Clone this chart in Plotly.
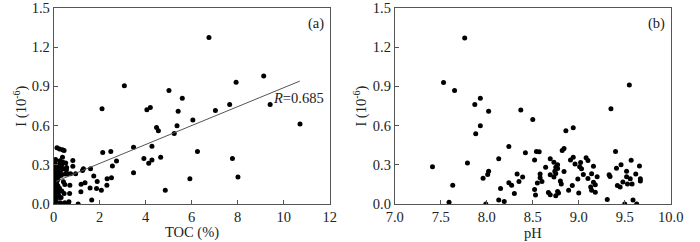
import plotly.graph_objects as go

# Panel (a): TOC (%) vs I (10^-6)
toc = [6.75, 3.07, 5.01, 5.59, 9.13, 7.93, 2.10, 4.05, 4.20, 5.41, 7.03, 7.65, 9.41, 6.05,
       10.71, 4.47, 4.55, 5.36, 5.24, 3.47, 4.27, 2.13, 2.48, 6.25, 4.65, 3.92, 4.27, 4.13,
       7.77, 2.73, 2.55, 3.47, 2.51, 2.32, 5.92, 8.01, 2.31, 2.07, 4.85, 1.60, 1.74, 1.89,
       1.86, 1.58, 1.65, 1.29, 1.25, 0.95, 1.36, 1.19, 1.18, 0.83, 0.83, 0.73, 0.70, 0.69,
       0.66, 1.06, 0.63, 0.38, 0.14, 0.25, 0.38, 0.45, 0.38, 0.52, 0.56, 0.50, 0.48, 0.45,
       0.42, 0.40, 0.35, 0.30, 0.28, 0.25, 0.22, 0.20, 0.18, 0.15, 0.12, 0.10, 0.08, 0.05,
       0.03, 0.02, 0.01, 0.04, 0.06, 0.09, 0.11, 0.13, 0.16, 0.19, 0.21, 0.24, 0.27, 0.30,
       0.33, 0.02, 0.05, 0.07, 0.10, 0.12, 0.15, 0.17, 0.20, 0.23, 0.03, 0.06, 0.08, 0.11,
       0.14, 0.18, 0.22, 0.26, 0.01, 0.04, 0.07, 0.09, 0.13, 0.16, 0.02, 0.05, 0.10, 0.15,
       0.20, 0.28, 0.35, 0.42, 0.03, 0.08, 0.12, 0.25, 0.32, 0.48, 0.55, 0.60, 0.18, 0.22]
iod_a = [1.274, 0.905, 0.869, 0.809, 0.980, 0.932, 0.729, 0.721, 0.739, 0.709, 0.716, 0.761,
         0.761, 0.643, 0.613, 0.585, 0.560, 0.598, 0.540, 0.435, 0.442, 0.394, 0.402, 0.402,
         0.357, 0.349, 0.337, 0.312, 0.349, 0.329, 0.291, 0.239, 0.201, 0.193, 0.193, 0.206,
         0.143, 0.106, 0.106, 0.269, 0.214, 0.173, 0.118, 0.123, 0.030, 0.269, 0.256, 0.231,
         0.163, 0.151, 0.093, 0.289, 0.332, 0.231, 0.143, 0.080, 0.018, 0.000, 0.000, 0.000,
         0.430, 0.420, 0.415, 0.410, 0.357, 0.314, 0.280, 0.230, 0.150, 0.080, 0.270, 0.320,
         0.300, 0.260, 0.220, 0.280, 0.250, 0.210, 0.190, 0.230, 0.200, 0.180, 0.160, 0.140,
         0.120, 0.100, 0.080, 0.060, 0.040, 0.020, 0.150, 0.170, 0.210, 0.240, 0.270, 0.300,
         0.330, 0.250, 0.220, 0.280, 0.310, 0.190, 0.170, 0.130, 0.110, 0.090, 0.070, 0.050,
         0.300, 0.260, 0.240, 0.200, 0.180, 0.140, 0.120, 0.330, 0.210, 0.110, 0.230, 0.250,
         0.280, 0.190, 0.010, 0.030, 0.020, 0.060, 0.070, 0.010, 0.100, 0.170, 0.320, 0.340,
         0.150, 0.120, 0.050, 0.010, 0.260, 0.230]

# Regression line
fit_x = [0.1, 10.7]
fit_intercept = 0.166
fit_slope = 0.0724
r_label = "<i>R</i>=0.685"

# Panel (b): pH vs I (10^-6)
ph = [7.41, 7.53, 7.59, 7.63, 7.65, 7.76, 7.79, 7.87, 7.88, 7.93, 7.93, 7.96, 7.99, 8.01,
      8.02, 8.02, 8.13, 8.15, 8.13, 8.19, 8.24, 8.24, 8.27, 8.30, 8.33, 8.35, 8.37, 8.39,
      8.42, 8.50, 8.52, 8.52, 8.53, 8.54, 8.57, 8.55, 8.58, 8.58, 8.60, 8.64, 8.67, 8.69,
      8.69, 8.69, 8.73, 8.73, 8.74, 8.75, 8.75, 8.75, 8.77, 8.77, 8.77, 8.78, 8.80, 8.81,
      8.82, 8.84, 8.84, 8.86, 8.89, 8.91, 8.93, 8.94, 8.94, 8.96, 8.99, 9.00, 9.01, 9.02,
      9.03, 9.05, 9.08, 9.10, 9.10, 9.13, 9.14, 9.14, 9.16, 9.16, 9.18, 9.18, 9.20, 9.31,
      9.33, 9.34, 9.35, 9.40, 9.41, 9.42, 9.45, 9.46, 9.48, 9.50, 9.52, 9.52, 9.53, 9.55,
      9.56, 9.57, 9.58, 9.59, 9.62, 9.63, 9.66, 9.67, 9.67]
iod_b = [0.286, 0.930, 0.013, 0.143, 0.869, 1.271, 0.314, 0.761, 0.538, 0.809, 0.598, 0.198,
         0.000, 0.226, 0.251, 0.709, 0.347, 0.118, 0.030, 0.020, 0.440, 0.163, 0.143, 0.080,
         0.229, 0.173, 0.719, 0.206, 0.392, 0.646, 0.111, 0.337, 0.068, 0.402, 0.400, 0.161,
         0.201, 0.229, 0.173, 0.281, 0.088, 0.347, 0.224, 0.070, 0.319, 0.206, 0.251, 0.281,
         0.234, 0.063, 0.271, 0.300, 0.095, 0.085, 0.176, 0.153, 0.410, 0.425, 0.249, 0.560,
         0.106, 0.337, 0.141, 0.357, 0.583, 0.307, 0.191, 0.085, 0.286, 0.317, 0.269, 0.226,
         0.354, 0.332, 0.196, 0.131, 0.106, 0.231, 0.289, 0.166, 0.090, 0.148, 0.209, 0.035,
         0.224, 0.211, 0.729, 0.402, 0.274, 0.141, 0.131, 0.300, 0.168, 0.000, 0.251, 0.209,
         0.153, 0.910, 0.193, 0.334, 0.153, 0.030, 0.229, 0.000, 0.291, 0.193, 0.176]

y_ticks = [0.0, 0.3, 0.6, 0.9, 1.2, 1.5]
y_ticklabels = ["0.0", "0.3", "0.6", "0.9", "1.2", "1.5"]
x_ticks_a = [0, 2, 4, 6, 8, 10, 12]
x_ticks_b = [7.0, 7.5, 8.0, 8.5, 9.0, 9.5, 10.0]
x_ticklabels_b = ["7.0", "7.5", "8.0", "8.5", "9.0", "9.5", "10.0"]
y_title = "I (10<sup>-6</sup>)"
x_title_a = "TOC (%)"
x_title_b = "pH"

FONT = "Liberation Serif"
FS = 14.5
TXT = "#222222"
AX = "#555555"

fig = go.Figure()
fig.add_trace(go.Scatter(x=toc, y=iod_a, mode="markers", xaxis="x", yaxis="y",
                         marker=dict(color="black", size=5), showlegend=False))
fig.add_trace(go.Scatter(x=fit_x, y=[fit_intercept + fit_slope * v for v in fit_x],
                         mode="lines", xaxis="x", yaxis="y",
                         line=dict(color="#555555", width=1), showlegend=False))
fig.add_trace(go.Scatter(x=ph, y=iod_b, mode="markers", xaxis="x2", yaxis="y2",
                         marker=dict(color="black", size=5), showlegend=False))

common_axis = dict(showgrid=False, zeroline=False, showline=True, mirror=True,
                   linecolor=AX, linewidth=1, ticks="inside", ticklen=4,
                   tickcolor=AX, ticklabeloverflow="allow",
                   tickfont=dict(family=FONT, size=FS, color=TXT))

fig.update_layout(
    width=700, height=242,
    margin=dict(l=0, r=0, t=4, b=38),
    paper_bgcolor="white", plot_bgcolor="white",
    font=dict(family=FONT, size=FS, color=TXT),
    xaxis=dict(domain=[0.066, 0.473], range=[0, 12], tickvals=x_ticks_a,
               anchor="y", **common_axis),
    yaxis=dict(domain=[0, 1], range=[0, 1.5], tickvals=y_ticks, ticktext=y_ticklabels,
               anchor="x", **common_axis),
    xaxis2=dict(domain=[0.569, 0.976], range=[7.0, 10.0], tickvals=x_ticks_b,
                ticktext=x_ticklabels_b, anchor="y2", **common_axis),
    yaxis2=dict(domain=[0, 1], range=[0, 1.5], tickvals=y_ticks, ticktext=y_ticklabels,
                anchor="x2", **common_axis),
)

for xp in (11 / 700, 362 / 700):
    fig.add_annotation(x=xp, y=0.5, xref="paper", yref="paper", text=y_title,
                       textangle=-90, showarrow=False, xanchor="center", yanchor="middle",
                       font=dict(family=FONT, size=FS, color=TXT))

for xref, title in (("x domain", x_title_a), ("x2 domain", x_title_b)):
    fig.add_annotation(x=0.5, y=-0.147, xref=xref, yref="paper", text=title,
                       showarrow=False, xanchor="center", yanchor="middle",
                       font=dict(family=FONT, size=FS, color=TXT))

fig.add_annotation(x=11.85, y=0.81, xref="x", yref="y", text=r_label, showarrow=False,
                   xanchor="right", yanchor="middle", font=dict(family=FONT, size=FS, color=TXT))
fig.add_annotation(x=0.985, y=0.92, xref="x domain", yref="y domain", text="(a)",
                   showarrow=False, xanchor="right", yanchor="middle",
                   font=dict(family=FONT, size=FS, color=TXT))
fig.add_annotation(x=0.985, y=0.92, xref="x2 domain", yref="y2 domain", text="(b)",
                   showarrow=False, xanchor="right", yanchor="middle",
                   font=dict(family=FONT, size=FS, color=TXT))

fig.write_html("out.html", config={"displayModeBar": False},
               post_script="document.body.style.margin='0';document.body.style.overflow='hidden';")
